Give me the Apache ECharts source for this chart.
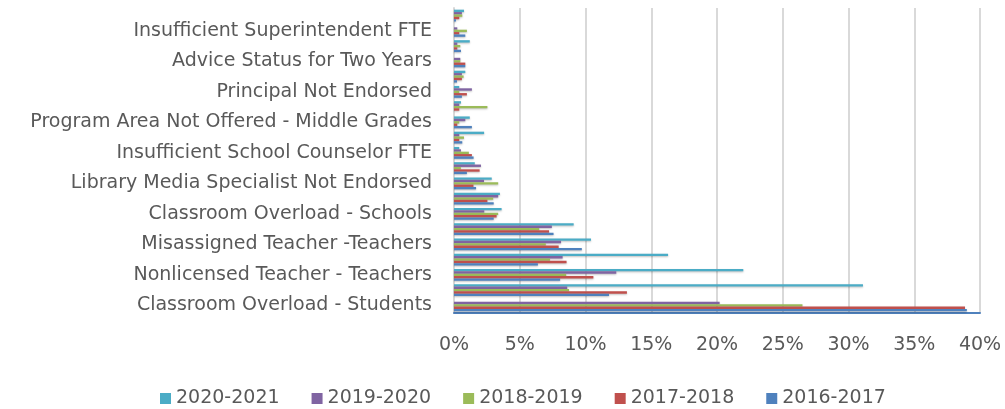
<!DOCTYPE html>
<html>
<head>
<meta charset="utf-8">
<script src="https://cdn.jsdelivr.net/npm/echarts@6/dist/echarts.min.js"></script>
<style>
  html, body { margin: 0; padding: 0; background: #fff; }
  #main { width: 1005px; height: 409px; }
</style>
</head>
<body>
<div id="main"></div>
<script>
// 类别（自下而上），只有偶数项显示标签
var categories = [
    'Classroom Overload - Students',
    'Nonlicensed Teacher - Schools',
    'Nonlicensed Teacher - Teachers',
    'Misassigned Teacher - Schools',
    'Misassigned Teacher -Teachers',
    'Classroom Overload - Teachers',
    'Classroom Overload - Schools',
    'Insufficient Library Media FTE',
    'Library Media Specialist Not Endorsed',
    'School Counselor Not Endorsed',
    'Insufficient School Counselor FTE',
    'Program Area Not Offered - High School',
    'Program Area Not Offered - Middle Grades',
    'Insufficient Principal FTE',
    'Principal Not Endorsed',
    'Curriculum Not Offered',
    'Advice Status for Two Years',
    'Superintendent Not Licensed',
    'Insufficient Superintendent FTE',
    'Probationary Status'
];

var years = ['2020-2021', '2019-2020', '2018-2019', '2017-2018', '2016-2017'];
var colors = ['#4BACC6', '#8064A2', '#9BBB59', '#C0504D', '#4F81BD'];

// 各年度数值（%）
var y2020 = [0, 31.1, 22.0, 16.28, 10.42, 9.1, 3.62, 3.49, 2.87, 1.58, 0.4, 2.29, 1.2, 0.53, 0.4, 0.86, 0, 1.2, 0, 0.76];
var y2019 = [20.2, 8.61, 12.34, 8.26, 8.14, 7.44, 2.3, 3.36, 2.28, 2.05, 0.53, 0.4, 0.86, 0.4, 1.36, 0.6, 0.48, 0.25, 0.25, 0.6];
var y2018 = [26.5, 8.75, 8.53, 7.3, 6.98, 6.48, 3.36, 2.98, 3.36, 0.52, 1.13, 0.76, 0.4, 2.54, 0.4, 0.73, 0.48, 0.48, 0.98, 0.63];
var y2017 = [38.86, 13.15, 10.6, 8.56, 7.96, 7.23, 3.24, 2.54, 1.48, 1.95, 1.36, 0.4, 0.25, 0.4, 0.98, 0.6, 0.86, 0.25, 0.4, 0.4];
var y2016 = [39.0, 11.79, 8.07, 6.38, 9.72, 7.57, 3.02, 3.02, 1.68, 0.98, 1.49, 0.63, 1.36, 0, 0.6, 0.23, 0.86, 0.53, 0.86, 0.15];

var xTicks = [0, 5, 10, 15, 20, 25, 30, 35, 40];

var seriesData = [y2020, y2019, y2018, y2017, y2016];

var myChart = echarts.init(document.getElementById('main'));

var font = 'DejaVu Sans';

var series = [];
for (var i = 0; i < years.length; i++) {
    series.push({
        name: years[i],
        type: 'bar',
        barGap: '0%',
        barCategoryGap: '22%',
        itemStyle: {
            color: colors[i],
            shadowColor: 'rgba(0,0,0,0.25)',
            shadowBlur: 2,
            shadowOffsetY: 1
        },
        data: seriesData[i]
    });
}

var option = {
    animation: false,
    color: colors,
    textStyle: {
        fontFamily: font,
        color: '#595959'
    },
    grid: {
        left: 454,
        top: 8,
        width: 526,
        height: 305
    },
    legend: {
        left: 155,
        top: 384,
        itemWidth: 11,
        itemHeight: 11,
        itemGap: 32,
        icon: 'rect',
        textStyle: { fontSize: 19, color: '#595959', fontFamily: font },
        data: years
    },
    xAxis: {
        type: 'value',
        min: xTicks[0],
        max: xTicks[xTicks.length - 1],
        interval: 5,
        axisLine: { show: true, lineStyle: { color: '#4F81BD', width: 2 } },
        axisTick: { show: false },
        axisLabel: {
            margin: 23,
            fontSize: 19,
            color: '#595959',
            formatter: '{value}%'
        },
        splitLine: { lineStyle: { color: '#D9D9D9', width: 2 } }
    },
    yAxis: {
        type: 'category',
        data: categories,
        axisLine: { lineStyle: { color: '#D9D9D9', width: 2 } },
        axisTick: { show: false },
        axisLabel: {
            interval: 1,
            margin: 22,
            fontSize: 19,
            color: '#595959'
        }
    },
    series: series
};

myChart.setOption(option);
</script>
</body>
</html>
